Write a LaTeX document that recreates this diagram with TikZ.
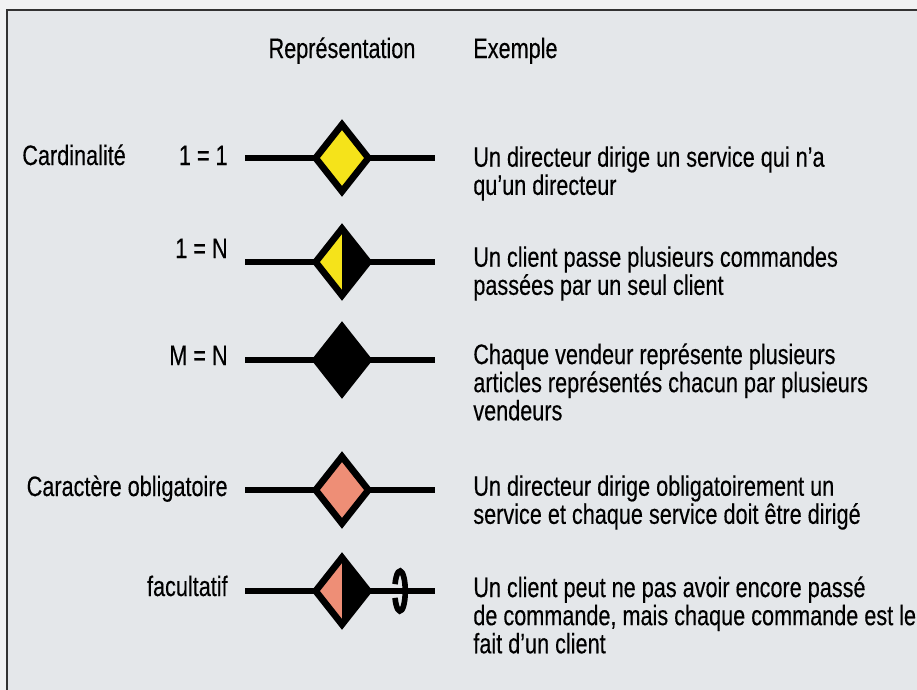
\documentclass[tikz,border=0pt]{standalone}
\usepackage{fontspec}
\setmainfont{Liberation Sans}[FakeStretch=0.77, FakeBold=0.3]
\usetikzlibrary{shapes.geometric}
\definecolor{paper}{HTML}{E4E7EA}
\definecolor{margin}{HTML}{F1F2F3}
\definecolor{cardyellow}{HTML}{F5E31A}
\definecolor{oblsalmon}{HTML}{EE8E76}

\begin{document}
\begin{tikzpicture}[
    x=0.02cm, y=0.02cm,
    font=\fontsize{16}{16}\selectfont,
    frame/.style={
        draw=black!80,
        line width=1.4pt
    },
    assoc/.style={
        diamond,
        draw=black,
        line width=3.8pt,
        minimum width=30pt,
        minimum height=38pt,
        inner sep=0pt,
        outer sep=0pt
    },
    halfblack/.style={
        path picture={
            \fill[black] (path picture bounding box.north)
                -- (path picture bounding box.east)
                -- (path picture bounding box.south) -- cycle;
        }
    },
    link/.style={
        line width=3pt
    },
    lbl/.style={
        anchor=base east,
        inner sep=0pt
    },
    expl/.style={
        anchor=north west,
        align=left,
        inner sep=0pt
    }
]
\useasboundingbox (0,0) rectangle (917,-690);

% paper and frame
\fill[margin] (0,0) rectangle (917,-690);
\fill[paper] (7,-10) rectangle (917,-690);
\draw[frame] (7,-690) -- (7,-10) -- (917,-10);

% ------------------------------------------------------------
% headings
% ------------------------------------------------------------
\node[anchor=base, inner sep=0pt] (hrep) at (342,-58) {Représentation};
\node[anchor=base west, inner sep=0pt] (hex) at (473,-58) {Exemple};

% ------------------------------------------------------------
% cardinalite 1 = 1
% ------------------------------------------------------------
\node[anchor=base west, inner sep=0pt] (card) at (22,-165) {Cardinalité};
\node[lbl] (c11) at (228,-165) {1 = 1};
\coordinate (a1) at (245,-158);
\coordinate (b1) at (435,-158);
\node[assoc, fill=cardyellow] (d1) at (342,-158) {};
\draw[link] (a1) -- (d1);
\draw[link] (d1) -- (b1);
\node[expl] (e1) at (473,-146) {Un directeur dirige un service qui n’a\\qu’un directeur};

% cardinalite 1 = N
\node[lbl] (c1n) at (228,-258) {1 = N};
\coordinate (a2) at (245,-262);
\coordinate (b2) at (435,-262);
\node[assoc, fill=cardyellow, halfblack] (d2) at (342,-262) {};
\draw[link] (a2) -- (d2);
\draw[link] (d2) -- (b2);
\node[expl] (e2) at (473,-246) {Un client passe plusieurs commandes\\passées par un seul client};

% cardinalite M = N
\node[lbl] (cmn) at (228,-365) {M = N};
\coordinate (a3) at (245,-360);
\coordinate (b3) at (435,-360);
\node[assoc, fill=black] (d3) at (342,-360) {};
\draw[link] (a3) -- (d3);
\draw[link] (d3) -- (b3);
\node[expl] (e3) at (473,-343) {Chaque vendeur représente plusieurs\\articles représentés chacun par plusieurs\\vendeurs};

% ------------------------------------------------------------
% caractere obligatoire / facultatif
% ------------------------------------------------------------
\node[lbl] (cob) at (228,-496) {Caractère obligatoire};
\coordinate (a4) at (245,-490);
\coordinate (b4) at (435,-490);
\node[assoc, fill=oblsalmon] (d4) at (342,-490) {};
\draw[link] (a4) -- (d4);
\draw[link] (d4) -- (b4);
\node[expl] (e4) at (473,-475) {Un directeur dirige obligatoirement un\\service et chaque service doit être dirigé};

\node[lbl] (cfa) at (228,-596) {facultatif};
\coordinate (a5) at (245,-591);
\coordinate (b5) at (435,-591);
\node[assoc, fill=oblsalmon, halfblack] (d5) at (342,-591) {};
\draw[link] (a5) -- (d5);
\draw[link] (d5) -- (b5);
% ring on the optional side
\coordinate (o5) at (400,-591);
\draw[link, line width=3.2pt] ([shift={(200:3pt and 11.4pt)}]o5)
    arc[start angle=200, end angle=520, x radius=3pt, y radius=11.4pt];
\node[expl] (e5) at (473,-576) {Un client peut ne pas avoir encore passé\\de commande, mais chaque commande est le\\fait d’un client};

\end{tikzpicture}
\end{document}
